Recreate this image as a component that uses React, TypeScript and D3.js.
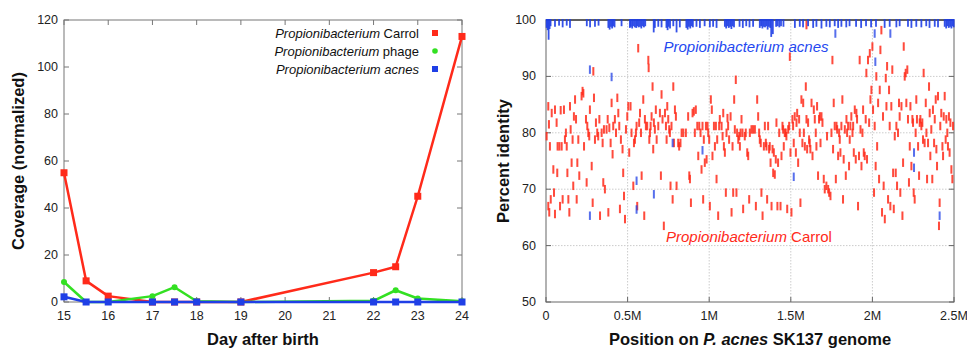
import React from 'react';
import * as d3 from 'd3';

// left panel: coverage over time
const days = [15, 15.5, 16, 17, 17.5, 18, 19, 22, 22.5, 23, 24];
const carrolCoverage = [55, 9, 2.5, 0, 0, 0, 0, 12.5, 15, 45, 113];
const phageCoverage = [8.5, 0, 0, 2.5, 6.3, 0.3, 0, 0.5, 5, 1.5, 0.3];
const acnesCoverage = [2.2, 0, 0, 0, 0, 0, 0, 0, 0, 0, 0];
const dayTicks = [15, 16, 17, 18, 19, 20, 21, 22, 23, 24];
const coverageTicks = [0, 20, 40, 60, 80, 100, 120];

// right panel: percent identity along the genome (position in Mb)
const positionTicks = [0, 0.5, 1, 1.5, 2, 2.5];
const positionLabels = ['0', '0.5M', '1M', '1.5M', '2M', '2.5M'];
const identityTicks = [50, 60, 70, 80, 90, 100];

const carrolHits: [number, number][] = [
  [0.004,79.4],[0.014,84.7],[0.018,81.5],[0.024,77.6],[0.035,83.5],[0.045,73.5],[0.049,69.4],[0.055,84.1],[0.065,81.8],[0.071,77.6],
  [0.082,77.6],[0.086,67],[0.09,84],[0.096,77.6],[0.014,67],[0.02,65.9],[0.029,68.2],[0.055,65.6],[0.102,68.2],[0.069,72.9],
  [0.11,84.1],[0.116,78.8],[0.122,80],[0.127,77.6],[0.131,72.9],[0.137,68.2],[0.143,65.9],[0.147,84.7],[0.151,80.6],[0.157,74.7],
  [0.163,78.8],[0.167,70.6],[0.171,82.9],[0.178,85.9],[0.184,82.4],[0.188,68.2],[0.192,74.7],[0.198,78.8],[0.204,72.4],
  [0.218,86.5],[0.224,87.4],[0.229,87],[0.233,77.6],[0.245,82.4],[0.249,71.2],[0.253,81.2],[0.259,80],[0.265,79.4],[0.269,84.1],
  [0.28,74.1],[0.286,67.6],[0.29,90.9],[0.294,86.2],[0.3,78.8],[0.306,81.8],
  [0.314,80],[0.32,79.4],[0.327,82.4],[0.331,65.3],[0.341,80],[0.347,78.2],[0.351,71.2],[0.355,80.6],[0.361,70],[0.371,80.6],
  [0.378,82.4],[0.382,65.9],[0.388,80.9],[0.396,78.2],[0.402,85.3],[0.408,76.2],
  [0.412,81.2],[0.422,82.4],[0.429,80],[0.437,86.2],[0.443,83.5],[0.449,81.2],[0.453,66.5],[0.459,78.8],[0.469,77.1],[0.473,72.9],
  [0.478,68.8],[0.484,64.7],[0.49,80.6],[0.498,82.9],[0.504,84.7],[0.51,76.5],
  [0.518,84.7],[0.524,80],[0.535,70.6],[0.539,78.2],[0.545,78.8],[0.551,80],[0.555,81.2],[0.559,67],[0.565,95],[0.571,81.8],
  [0.576,83.5],[0.582,80],[0.586,72.4],[0.596,85.9],[0.602,65.3],[0.606,82.4],[0.612,81.2],
  [0.62,81.2],[0.627,92.9],[0.629,91.5],[0.633,78.8],[0.637,80],[0.641,81.2],[0.647,82.9],[0.653,88.2],[0.657,77.1],[0.661,81.8],
  [0.667,80.6],[0.673,84.1],[0.678,78.8],[0.688,81.2],[0.698,83.5],[0.704,72.4],[0.708,86.8],[0.714,82.4],
  [0.722,63.5],[0.729,83.5],[0.735,81.2],[0.739,78.8],[0.743,84.7],[0.749,82.4],[0.755,80.6],[0.759,80],[0.763,70.6],[0.769,81.2],
  [0.776,68.2],[0.78,88.2],[0.784,78.2],[0.79,84.1],[0.796,82.9],[0.8,70.6],[0.81,78.2],[0.816,77.6],
  [0.824,78.2],[0.831,80],[0.841,80],[0.857,80],[0.871,82.9],[0.878,72.4],[0.882,71.8],[0.888,67.6],[0.898,83.5],[0.906,83.8],
  [0.912,80],[0.918,84.1],
  [0.927,81.2],[0.933,75.9],[0.939,81.2],[0.947,80],[0.953,73.5],[0.959,81.2],[0.963,68.2],[0.967,78.8],[0.973,74.7],[0.98,81.2],
  [0.984,75.3],[0.99,81.2],[0.994,80],[1.0,78.8],[1.004,67],[1.01,85.9],[1.016,84.1],[1.02,75.9],
  [1.029,81.2],[1.035,77.6],[1.041,81.2],[1.045,71.8],[1.049,78.8],[1.055,65.3],[1.061,81.2],[1.065,82.4],[1.076,81.2],[1.082,79.4],
  [1.086,83.5],[1.09,77.6],[1.096,76.5],[1.102,69.4],[1.106,80],[1.112,82.6],[1.116,81.2],[1.122,78.8],
  [1.131,82.9],[1.137,65.9],[1.143,77.6],[1.147,69.4],[1.153,85.9],[1.157,80.6],[1.163,89.4],[1.167,69.4],[1.171,80],[1.178,78.8],
  [1.184,79.4],[1.188,77.6],[1.192,80],[1.198,82.4],[1.204,80],[1.208,66.5],[1.218,79.4],[1.224,80],
  [1.233,76.5],[1.239,75.9],[1.245,68.2],[1.249,80],[1.259,80.6],[1.269,80.6],[1.28,80.6],[1.286,67],[1.294,85.9],[1.3,82.9],
  [1.306,80],[1.31,78.8],[1.316,78.2],[1.32,69.4],[1.327,65.3],
  [1.335,77.6],[1.341,81.2],[1.347,78.2],[1.351,77.6],[1.355,68.2],[1.361,81.2],[1.367,77.1],[1.371,77.6],[1.376,74.7],[1.382,67],
  [1.388,77.1],[1.392,72.9],[1.396,76.5],[1.402,72.6],[1.408,75.3],[1.412,81.8],[1.418,67],[1.422,74.7],[1.429,80],
  [1.437,67],[1.443,75.9],[1.449,81.2],[1.453,80.6],[1.457,77.6],[1.463,80],[1.469,80],[1.473,79.4],[1.478,66.5],[1.484,80.6],
  [1.49,81.2],[1.494,93.5],[1.498,76.5],[1.504,65.9],[1.51,82.4],[1.514,81.2],[1.518,78.2],[1.524,82.9],[1.531,76.5],
  [1.535,81.8],[1.539,83.5],[1.545,74.7],[1.551,82.4],[1.555,80],[1.559,67.6],[1.565,85.9],[1.571,78.2],[1.576,85.3],[1.58,80],
  [1.586,77.6],[1.592,88.2],[1.596,82.4],[1.6,77.1],[1.606,81.8],[1.612,78.8],[1.616,78.2],[1.62,77.1],[1.627,85.3],[1.633,75.9],
  [1.596,99.1],
  [1.641,84.1],[1.647,82.4],[1.653,80],[1.657,77.6],[1.661,84.7],[1.667,72.4],[1.673,82.4],[1.678,82.9],[1.682,78.2],[1.688,82.9],
  [1.694,81.8],[1.702,71.8],[1.708,70],[1.718,70.6],[1.722,79.4],[1.729,70],[1.735,69.4],
  [1.743,68.8],[1.749,80],[1.755,92.9],[1.759,77.1],[1.763,85.3],[1.769,81.2],[1.776,71.8],[1.78,81.2],[1.784,80.6],[1.79,75.9],
  [1.796,80],[1.8,78.8],[1.804,76.5],[1.81,81.2],[1.816,85.9],[1.82,68.2],[1.824,75.3],[1.831,80.6],[1.837,72.4],
  [1.841,82.4],[1.845,80],[1.851,81.2],[1.857,74.1],[1.861,78.8],[1.865,81.2],[1.871,82.9],[1.878,80],[1.882,81.2],[1.886,76.5],
  [1.892,84.1],[1.898,75.3],[1.902,83.5],[1.906,82.4],[1.912,67],[1.918,75.9],[1.922,92.9],[1.927,80.6],[1.933,74.1],[1.939,80],
  [1.943,84.1],[1.947,76.5],[1.953,75.9],[1.959,82.4],[1.963,90.6],[1.967,75.3],[1.973,92.9],[1.98,81.8],[1.984,94.1],[1.988,85.9],
  [1.994,87.6],[2.0,95.3],[2.004,84.1],[2.01,69.4],[2.014,81.2],[2.02,74.1],[2.024,90],[2.029,77.6],[2.035,85.3],[2.041,71.8],
  [2.045,87.6],[2.049,94.7],[2.055,98.2],[2.059,65.9],[2.065,82.9],[2.069,70.6],[2.076,64.7],[2.082,89.7],[2.086,84.7],[2.09,91.8],
  [2.096,68.2],[2.102,87.6],[2.106,81.2],[2.11,67],[2.116,84.7],[2.122,91.2],[2.127,72.9],[2.131,66.5],[2.137,79.4],[2.143,72.9],
  [2.147,81.2],[2.151,70.6],[2.157,80],[2.163,85.3],[2.167,82.9],[2.171,69.4],[2.178,84.7],[2.184,65.3],[2.188,74.7],[2.192,95.3],
  [2.198,90],[2.204,90.6],[2.208,85.3],[2.214,91.2],[2.218,82.4],[2.224,71.2],[2.229,77.6],[2.233,84.7],[2.239,74.1],[2.245,82.4],
  [2.249,81.8],[2.253,69.4],[2.259,68.2],[2.265,80],[2.269,85.9],[2.273,82.4],[2.28,77.6],[2.286,72.4],[2.29,81.8],[2.294,82.4],
  [2.3,81.2],[2.306,81.8],[2.31,78.8],[2.314,90.6],[2.32,78.2],[2.327,85.3],[2.331,80],[2.335,71.8],[2.341,78.2],[2.347,88.2],
  [2.351,83.5],[2.355,75.9],[2.361,80.6],[2.367,71.8],[2.371,84.1],[2.378,78.2],[2.382,82.4],[2.388,85.9],[2.392,77.1],[2.396,74.1],
  [2.402,86.5],[2.408,63.5],[2.412,67.6],[2.416,81.2],[2.422,83.5],[2.429,77.6],[2.433,75.9],[2.437,82.9],[2.443,86.5],[2.449,78.8],
  [2.453,82.4],[2.459,80],[2.463,77.6],[2.469,82.9],[2.473,76.5],[2.478,81.8],[2.484,73.5],[2.49,71.8],[2.494,81.2],
];

const acnesHits: [number, number][] = [
  [0.269,91.2],[0.402,89.9],[0.269,65.3],[0.555,71.5],[0.555,66.4],[0.661,69.1],[0.776,78.2],[0.959,76.9],
  [1.518,72.2],[1.773,97.6],[2.014,97.6],[2.11,97.6],[2.018,92.6],[2.255,76.5],[2.255,73.8],[2.412,65.3],
];

// near-identical hits hanging from 100%: [position, lowest identity]
const acnesTopHits: [number, number][] = [
  [0.004,98.6],[0.01,98.2],[0.016,96.5],[0.022,98.4],[0.028,98.9],[0.055,98.8],[0.08,99],[0.102,98.7],[0.127,99],[0.147,98.6],
  [0.25,98.9],[0.27,98.7],[0.3,98.8],[0.322,99],[0.382,98.6],[0.39,98.3],[0.398,98.8],[0.405,98.5],[0.412,98.9],[0.42,98.7],
  [0.463,98.9],[0.514,98.6],[0.52,98.8],[0.528,98.5],[0.536,98.9],[0.545,98.7],[0.553,98.6],[0.56,98.9],[0.568,98.7],[0.576,98.8],
  [0.584,98.5],[0.592,98.9],[0.6,98.7],[0.608,98.9],[0.66,97.8],[0.667,98.6],[0.688,98.8],[0.708,98.7],[0.738,98.6],[0.745,98.2],
  [0.752,98.8],[0.76,98.5],[0.78,98.9],[0.8,97.8],[0.82,98.7],[0.86,98.6],[0.868,98.3],[0.876,98.8],[0.884,98.5],[0.892,98.9],
  [0.9,98.7],[0.922,98.8],[0.943,98.6],[0.972,98.9],[1.004,98.7],[1.024,98.8],[1.045,98.6],[1.096,98.8],[1.104,98.5],[1.112,98.9],
  [1.12,98.6],[1.128,98.8],[1.136,98.4],[1.144,98.9],[1.152,98.7],[1.186,98.8],[1.206,98.6],[1.227,98.9],[1.247,98.7],[1.269,98.8],
  [1.31,98.6],[1.318,98.9],[1.326,98.5],[1.334,98.8],[1.342,98.7],[1.35,98.9],[1.358,98.3],[1.366,98.8],[1.374,98.6],[1.38,97],
  [1.39,97.5],[1.41,98.8],[1.42,98.9],[1.43,98.7],[1.44,98.9],[1.455,98.8],[1.525,98.6],[1.555,98.8],[1.575,98.7],[1.606,98.9],
  [1.637,98.6],[1.657,98.8],[1.688,98.5],[1.718,98.8],[1.739,98.7],[1.769,98.9],[1.79,98.6],[1.81,98.8],[1.84,98.7],[1.86,98.9],
  [1.9,98.8],[1.931,98.6],[1.961,98.9],[1.992,98.7],[2.022,98.8],[2.075,98.6],[2.106,98.8],[2.147,98.7],[2.167,98.9],[2.218,98.8],
  [2.239,98.6],[2.269,98.8],[2.3,98.7],[2.33,98.9],[2.35,98.6],[2.382,98.8],[2.402,98.7],[2.443,98.8],[2.452,98.5],[2.46,98.9],
  [2.468,98.6],[2.476,98.8],[2.484,98.5],[2.492,98.9],[2.498,98.7],
];

const legendItems = [
  { italic: 'Propionibacterium', rest: ' Carrol', color: '#ff2a1a', shape: 'square' },
  { italic: 'Propionibacterium', rest: ' phage', color: '#33e022', shape: 'circle' },
  { italic: 'Propionibacterium acnes', rest: '', color: '#1f3fe6', shape: 'square' },
];

const FONT = '"Liberation Sans", Arial, Helvetica, sans-serif';
const RED = '#ff2a1a';
const GREEN = '#33e022';
const BLUE = '#1f3fe6';

function CoverageChart() {
  const x = d3.scaleLinear().domain([15, 24]).range([64, 462]);
  const y = d3.scaleLinear().domain([0, 120]).range([302, 20]);
  const line = d3.line<[number, number]>().x(d => x(d[0])).y(d => y(d[1]));
  const series = [
    { values: carrolCoverage, color: RED, shape: 'square' },
    { values: phageCoverage, color: GREEN, shape: 'circle' },
    { values: acnesCoverage, color: BLUE, shape: 'square' },
  ];
  const [x0, x1] = x.range();
  const [y0, y1] = y.range();

  return (
    <g fontFamily={FONT}>
      <rect x={x0} y={y1} width={x1 - x0} height={y0 - y1} fill="white" stroke="#777" />
      {dayTicks.map(t => (
        <g key={'dx' + t}>
          <line x1={x(t)} x2={x(t)} y1={y0} y2={y0 - 5} stroke="#777" />
          <line x1={x(t)} x2={x(t)} y1={y1} y2={y1 + 5} stroke="#777" />
          <text x={x(t)} y={y0 + 18} textAnchor="middle" fontSize={12.5} fill="#222">{t}</text>
        </g>
      ))}
      {coverageTicks.map(t => (
        <g key={'cy' + t}>
          <line x1={x0} x2={x0 + 5} y1={y(t)} y2={y(t)} stroke="#777" />
          <line x1={x1} x2={x1 - 5} y1={y(t)} y2={y(t)} stroke="#777" />
          <text x={x0 - 6} y={y(t) + 4} textAnchor="end" fontSize={12.5} fill="#222">{t}</text>
        </g>
      ))}
      {series.map((s, i) => (
        <g key={'s' + i}>
          <path d={line(days.map((d, j) => [d, s.values[j]]) as [number, number][]) || ''}
            fill="none" stroke={s.color} strokeWidth={2.5} strokeLinejoin="round" />
          {days.map((d, j) => s.shape === 'square'
            ? <rect key={j} x={x(d) - 3.5} y={y(s.values[j]) - 3.5} width={7} height={7} fill={s.color} />
            : <circle key={j} cx={x(d)} cy={y(s.values[j])} r={3} fill={s.color} />)}
        </g>
      ))}
      {legendItems.map((it, i) => (
        <g key={'lg' + i} transform={`translate(0, ${33 + i * 18})`}>
          <text x={419} y={5} textAnchor="end" fontSize={13} fill="#111">
            <tspan fontStyle="italic">{it.italic}</tspan>
            {it.rest && <tspan>{it.rest}</tspan>}
          </text>
          {it.shape === 'square'
            ? <rect x={432} y={-3} width={6} height={6} fill={it.color} />
            : <circle cx={435} cy={0} r={2.8} fill={it.color} />}
        </g>
      ))}
      <text x={(x0 + x1) / 2} y={345} textAnchor="middle" fontSize={16.5} fontWeight="bold" fill="#111">Day after birth</text>
      <text transform={`translate(24, ${(y0 + y1) / 2}) rotate(-90)`} textAnchor="middle"
        fontSize={16.5} fontWeight="bold" fill="#111">Coverage (normalized)</text>
    </g>
  );
}

function IdentityChart() {
  const x = d3.scaleLinear().domain([0, 2.5]).range([546, 954]);
  const y = d3.scaleLinear().domain([50, 100]).range([302, 20]);
  const [x0, x1] = x.range();
  const [y0, y1] = y.range();
  const half = 0.75;

  return (
    <g fontFamily={FONT}>
      <rect x={x0} y={y1} width={x1 - x0} height={y0 - y1} fill="white" />
      {positionTicks.slice(1, -1).map(t => (
        <line key={'gx' + t} x1={x(t)} x2={x(t)} y1={y1} y2={y0} stroke="#ccc" strokeDasharray="1.5,1.5" />
      ))}
      {identityTicks.slice(1, -1).map(t => (
        <line key={'gy' + t} x1={x0} x2={x1} y1={y(t)} y2={y(t)} stroke="#ccc" strokeDasharray="1.5,1.5" />
      ))}
      <rect x={x0} y={y1} width={x1 - x0} height={y0 - y1} fill="none" stroke="#666" />
      {positionTicks.map((t, i) => (
        <g key={'px' + t}>
          <line x1={x(t)} x2={x(t)} y1={y0} y2={y0 - 5} stroke="#666" />
          <text x={x(t)} y={y0 + 18} textAnchor="middle" fontSize={12.5} fill="#222">{positionLabels[i]}</text>
        </g>
      ))}
      {identityTicks.map(t => (
        <g key={'iy' + t}>
          <line x1={x0} x2={x0 + 5} y1={y(t)} y2={y(t)} stroke="#666" />
          <line x1={x1} x2={x1 - 5} y1={y(t)} y2={y(t)} stroke="#666" />
          <text x={x0 - 10} y={y(t) + 4} textAnchor="end" fontSize={12.5} fill="#222">{t}</text>
        </g>
      ))}
      {carrolHits.map((d, i) => (
        <rect key={'c' + i} x={x(d[0]) - 1} y={y(d[1] + half)} width={2}
          height={y(d[1] - half) - y(d[1] + half)} fill={RED} opacity={0.85} />
      ))}
      {acnesHits.map((d, i) => (
        <rect key={'a' + i} x={x(d[0]) - 1} y={y(d[1] + half)} width={2}
          height={y(d[1] - half) - y(d[1] + half)} fill={BLUE} opacity={0.75} />
      ))}
      <line x1={x0} x2={x1} y1={y1} y2={y1} stroke="#444" strokeWidth={1.5} />
      {acnesTopHits.map((d, i) => (
        <rect key={'t' + i} x={x(d[0]) - 0.9} y={y(100) - 1} width={1.8}
          height={y(d[1]) - y(100) + 1} fill={BLUE} opacity={0.9} />
      ))}
      <text x={746} y={52} textAnchor="middle" fontSize={15} fontStyle="italic" fill="#2448f0">Propionibacterium acnes</text>
      <text x={749} y={242} textAnchor="middle" fontSize={15} fill={RED}>
        <tspan fontStyle="italic">Propionibacterium</tspan>
        <tspan> Carrol</tspan>
      </text>
      <text x={(x0 + x1) / 2} y={345} textAnchor="middle" fontSize={16.5} fontWeight="bold" fill="#111">
        <tspan>Position on </tspan>
        <tspan fontStyle="italic">P. acnes</tspan>
        <tspan> SK137 genome</tspan>
      </text>
      <text transform={`translate(509, ${(y0 + y1) / 2}) rotate(-90)`} textAnchor="middle"
        fontSize={16.5} fontWeight="bold" fill="#111">Percent identity</text>
    </g>
  );
}

export default function App() {
  return (
    <svg width={967} height={352} style={{ position: 'absolute', left: 0, top: 0, background: 'white' }}>
      <CoverageChart />
      <IdentityChart />
    </svg>
  );
}
